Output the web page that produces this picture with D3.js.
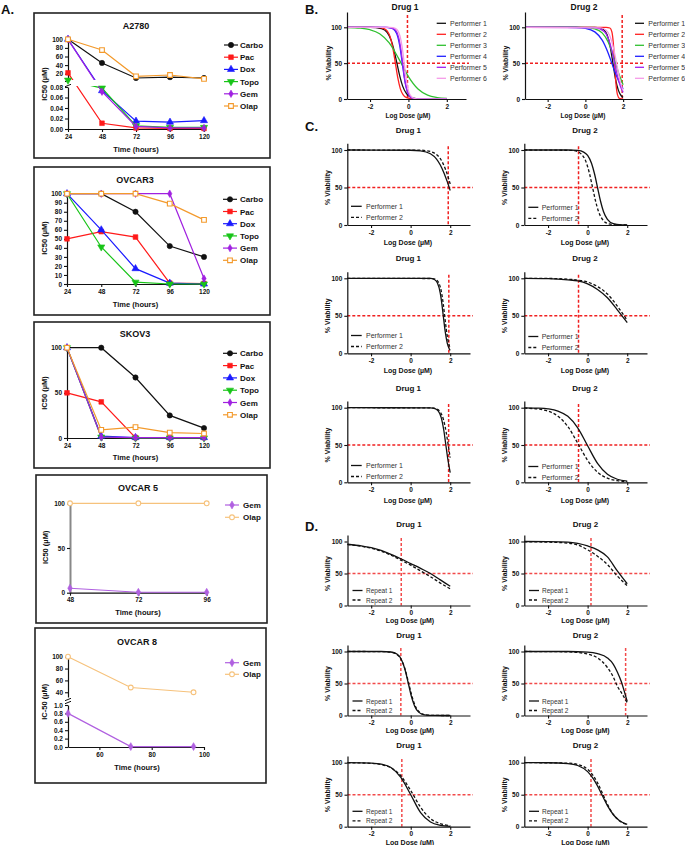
<!DOCTYPE html>
<html>
<head>
<meta charset="utf-8">
<script src="https://cdn.jsdelivr.net/npm/d3@7"></script>
<style>
body { margin: 0; background: #fff; }
svg { display: block; font-family: "Liberation Sans", Arial, sans-serif; }
</style>
</head>
<body>
<svg id="fig" width="685" height="845"></svg>
<script>
// ---------- panel A data (IC50, uM) ----------
const hours = [24, 48, 72, 96, 120];
const hoursShort = [48, 72, 96];
const drugNames = ["Carbo", "Pac", "Dox", "Topo", "Gem", "Olap"];
const drugNamesShort = ["Gem", "Olap"];

const a2780Ic50 = [
    [100, 45, 10, 12, 10],
    [22, 0.011, 0.002, 0.001, 0.001],
    [100, 0.073, 0.015, 0.013, 0.016],
    [5, 0.078, 0.006, 0.003, 0.003],
    [100, 0.071, 0.005, 0.002, 0.002],
    [100, 75, 14, 17, 8]
];
const ovcar3Ic50 = [
    [100, 100, 80, 42, 30],
    [50, 58, 52, 1, 0.5],
    [100, 60, 17, 1, 0],
    [100, 41, 2, 0, 0],
    [100, 100, 100, 100, 6],
    [100, 100, 100, 89, 71]
];
const skov3Ic50 = [
    [100, 100, 67, 25, 11],
    [50, 40, 0.5, 0.5, 0.5],
    [100, 2, 0.5, 0.5, 0.5],
    [100, 1, 0, 0, 0],
    [100, 1, 0.5, 0.5, 0.5],
    [100, 9, 12, 6, 5]
];
const ovcar5Ic50 = [
    [5, 0.5, 0.5],
    [100, 100, 100]
];
const ovcar8Ic50 = [
    [0.8, 0.01, 0.01],
    [100, 48, 40]
];

const a2780HighTicks = [20, 40, 60, 80, 100];
const a2780LowTicks = [0, 0.02, 0.04, 0.06, 0.08];
const ovcar3Ticks = [0, 10, 20, 30, 40, 50, 60, 70, 80, 90, 100];
const ic50Ticks = [0, 50, 100];
const ovcar8HighTicks = [40, 60, 80, 100];
const ovcar8LowTicks = [0, 0.2, 0.4, 0.6, 0.8, 1.0];
const ovcar8HourTicks = [60, 80, 100];

// ---------- dose-response data: [log dose, % viability] ----------
const doseTicks = [-2, 0, 2];
const viabilityTicks = [0, 50, 100];
const performersB = ["Performer 1", "Performer 2", "Performer 3", "Performer 4", "Performer 5", "Performer 6"];
const performersC = ["Performer 1", "Performer 2"];
const repeatsD = ["Repeat 1", "Repeat 2"];

const bDrug1 = [
    [[-3.2,100],[-2,100],[-1.4,98.3],[-1.1,92.7],[-0.9,82],[-0.75,68],[-0.6,50],[-0.45,32],[-0.3,18],[-0.1,7.4],[0.1,2.8],[0.4,0.6],[1,0],[2,0]],
    [[-3.2,100],[-1.6,100],[-1.3,98.6],[-1.1,94.8],[-0.95,86.6],[-0.82,72.5],[-0.68,50],[-0.55,29],[-0.42,14.2],[-0.28,6],[-0.1,1.8],[0.2,0.2],[1,0],[2,0]],
    [[-3.2,99.7],[-2.5,98.8],[-2,96.6],[-1.5,91],[-1,78.3],[-0.5,56],[0,31.3],[0.5,13.9],[1,5.4],[1.5,2],[2,0.7]],
    [[-3.2,100],[-1.2,100],[-0.9,99],[-0.7,95.5],[-0.55,86.4],[-0.45,74],[-0.32,50],[-0.2,27.5],[-0.1,14.5],[0.05,4.8],[0.25,1],[0.5,0.2],[2,0]],
    [[-3.2,100],[-1.1,100],[-0.85,99],[-0.65,95.5],[-0.5,85],[-0.4,70.6],[-0.3,50],[-0.2,29],[-0.1,14.8],[0.05,4.5],[0.25,0.8],[0.5,0.1],[2,0]],
    [[-3.2,100],[-1,100],[-0.8,99.5],[-0.6,97],[-0.45,89],[-0.33,73],[-0.22,50],[-0.12,28.5],[-0.02,13.7],[0.1,5],[0.3,0.8],[0.6,0],[2,0]]
];
const bDrug2 = [
    [[-3.2,100],[0.5,100],[0.8,99],[1.0,96],[1.15,89.5],[1.3,75],[1.46,50],[1.6,27.5],[1.75,12],[1.9,4.5],[2,2.3]],
    [[-3.2,100],[1.1,100],[1.3,99],[1.4,94],[1.48,78],[1.55,50],[1.62,21.6],[1.7,6],[1.8,1],[2,0]],
    [[-3.2,100],[-0.5,100],[0,99.6],[0.5,97.8],[0.9,91.8],[1.2,80],[1.4,66.6],[1.6,50],[1.8,33],[2,20]],
    [[-3.2,100],[-1,99.9],[-0.5,99.7],[0,98.5],[0.5,93.6],[0.9,81.7],[1.2,64.5],[1.4,50],[1.6,35.5],[1.8,23],[2,14.2]],
    [[-3.2,100],[0.5,99.5],[1.0,94],[1.2,85.5],[1.4,68],[1.55,50],[1.7,32],[1.85,18],[2,9.3]],
    [[-3.2,100],[0.8,99.2],[1.1,96],[1.3,88],[1.5,70],[1.65,50],[1.8,30],[1.9,19],[2,11.8]]
];

const cRow1Drug1 = [
    [[-3.2,100],[0,99.7],[0.5,98.9],[1,95],[1.3,88.2],[1.5,80],[1.7,68.4],[1.85,57.8],[2,46]],
    [[-3.2,100],[0.5,99.7],[1,98],[1.3,94],[1.5,88.4],[1.75,75],[1.9,63.5],[2,54.6]]
];
const cRow1Drug2 = [
    [[-3.2,100],[-1,100],[-0.5,99.4],[-0.2,97.2],[0,92.7],[0.2,82],[0.35,68],[0.5,50],[0.65,32],[0.8,18],[1,7.4],[1.3,1.7],[1.7,0.2],[2,0]],
    [[-3.2,100],[-0.8,99.5],[-0.5,97.8],[-0.3,94],[-0.1,85.5],[0.1,68],[0.25,50],[0.4,32],[0.55,18],[0.75,7.4],[1.05,1.7],[1.45,0.2],[2,0]]
];
const cRow2Drug1 = [
    [[-3.2,100],[1,99.8],[1.2,98.4],[1.35,94],[1.5,80],[1.6,61.3],[1.65,50],[1.75,28.5],[1.85,13.7],[1.95,6],[2,3.8]],
    [[-3.2,100],[1.1,99.7],[1.25,98.7],[1.4,95],[1.55,82.7],[1.65,65.6],[1.72,50],[1.8,32.4],[1.9,16],[2,7]]
];
const cRow2Drug2 = [
    [[-3.2,100],[-2,99.6],[-1,98],[-0.5,96.5],[0,92.5],[0.5,85],[1,74],[1.5,58],[2,41]],
    [[-3.2,100],[-2,99.8],[-1,98.8],[-0.5,97.6],[0,95],[0.5,89],[1,79],[1.5,63],[2,44]]
];
const cRow3Drug1 = [
    [[-3.2,100],[1,99.8],[1.2,99],[1.4,95.5],[1.55,86.4],[1.67,70.8],[1.78,50],[1.88,30.9],[2,13]],
    [[-3.2,100],[1,99.8],[1.3,98.4],[1.5,94],[1.65,85],[1.8,66.6],[1.9,50],[2,33]]
];
const cRow3Drug2 = [
    [[-3.2,99.8],[-2.5,99.4],[-2,98.4],[-1.5,95.5],[-1,88.4],[-0.5,73],[0,49],[0.5,25.4],[1,10.8],[1.5,4.1],[2,1.5]],
    [[-3.2,99.4],[-2.5,98.2],[-2,95.4],[-1.5,88.6],[-1,74.7],[-0.45,50],[0,29.4],[0.5,13.5],[1,5.5],[1.5,2.2],[2,0.8]]
];

const dRow1Drug1 = [
    [[-3.2,95.7],[-2.5,93],[-2,90.5],[-1.5,86],[-1,80],[-0.5,73],[0,65.5],[0.5,58],[1,50],[1.5,40],[2,30]],
    [[-3.2,95.3],[-2.5,92.5],[-2,89.5],[-1.5,85],[-1,78.5],[-0.5,71],[0,63],[0.5,54],[1,45],[1.5,35],[2,26]]
];
const dRow1Drug2 = [
    [[-3.2,100],[-2,99.8],[-1,99],[-0.5,97],[0,93],[0.5,87],[1,76],[1.5,54],[2,34]],
    [[-3.2,99.5],[-2,99],[-1,97.5],[-0.5,94.5],[0,87],[0.5,77],[1,64],[1.5,46],[2,31]]
];
const dRow2Drug1 = [
    [[-3.2,100],[-1.5,100],[-1,99.2],[-0.7,96],[-0.5,89],[-0.3,73],[-0.12,50],[0.05,28],[0.2,14.6],[0.4,5.3],[0.7,1],[1.2,0.1],[2,0]],
    [[-3.2,100],[-1.5,99.9],[-1,98.9],[-0.7,95.3],[-0.5,88.3],[-0.3,73.5],[-0.1,50],[0.05,31.5],[0.25,13.5],[0.45,5],[0.75,1.1],[1.2,0.1],[2,0]]
];
const dRow2Drug2 = [
    [[-3.2,100],[-1,100],[0,99],[0.5,96.5],[1,90],[1.3,80],[1.5,68],[1.7,53],[1.85,38],[2,22]],
    [[-3.2,100],[-1,99.5],[-0.5,98.5],[0,96],[0.5,90],[1,75],[1.3,60],[1.5,46],[1.7,36],[2,20]]
];
const dRow3Drug1 = [
    [[-3.2,100],[-2.5,99.8],[-2,99.4],[-1.5,97.8],[-1,92.6],[-0.5,77],[0,50],[0.5,22],[1,7.4],[1.5,2.2],[2,0.6]],
    [[-3.2,99.9],[-2.5,99.6],[-2,99],[-1.5,97],[-1,92],[-0.5,79.6],[0,56.5],[0.5,30.4],[1,12.7],[1.5,4.7],[2,1.6]]
];
const dRow3Drug2 = [
    [[-3.2,100],[-2,99.9],[-1,98.7],[-0.5,95.6],[0,86],[0.3,74.3],[0.5,63.6],[0.72,50],[1,33],[1.3,18.7],[1.6,9.7],[2,3.8]],
    [[-3.2,100],[-2,99.9],[-1,99.3],[-0.5,97.2],[0,89.6],[0.3,79],[0.5,68.5],[0.78,50],[1,35],[1.3,19.2],[1.6,9.4],[2,3.3]]
];

// IC50 reference lines (log dose)
const bRefDose = [-0.05, 1.95];
const cRefDose = [1.9, -0.46, 1.93, -0.46, 1.92, -0.46];
const dRefDose = [-0.48, 0.17, -0.5, 1.92, -0.45, 0.17];

// ---------- drawing ----------
const svg = d3.select("#fig");
const FONT = '"Liberation Sans", Arial, sans-serif';
const drugColors = ["#111111", "#ff1a1a", "#1a1aff", "#18c418", "#a020e0", "#f39a2c"];
const drugSymbols = [d3.symbolCircle, d3.symbolSquare, d3.symbolTriangle, d3.symbolTriangle, d3.symbolDiamond, d3.symbolSquare];
const shortColors = ["#b060e0", "#f6c27c"];
const perfColors = ["#111111", "#ff2020", "#30c030", "#2020ff", "#a020f0", "#f59ae8"];

function styleAxis(sel, color) {
    sel.attr("font-family", FONT);
    sel.select(".domain").attr("stroke", color || "#111").attr("stroke-width", color ? 2 : 1.2);
    sel.selectAll(".tick line").attr("stroke", "#111").attr("stroke-width", 1.1);
    sel.selectAll(".tick text").attr("font-size", 6.5).attr("font-weight", "bold").attr("fill", "#111");
}

function addText(g, str, x, y, size, opts = {}) {
    const t = g.append("text")
        .attr("x", x).attr("y", y)
        .attr("font-size", size)
        .attr("font-weight", opts.weight || "bold")
        .attr("fill", opts.fill || "#111")
        .attr("text-anchor", opts.anchor || "middle")
        .text(str);
    if (opts.rotate) t.attr("transform", `rotate(-90,${x},${y})`);
    return t;
}

function drawMarker(g, i, px, py, short) {
    const type = short ? (i === 0 ? d3.symbolDiamond : d3.symbolCircle) : drugSymbols[i];
    const color = short ? shortColors[i] : drugColors[i];
    const open = short ? i === 1 : i === 5;
    const size = short ? 18 : (i === 4 ? 16 : 22);
    g.append("path")
        .attr("d", d3.symbol().type(type).size(size)())
        .attr("transform", `translate(${px},${py})` + (!short && i === 3 ? " rotate(180)" : ""))
        .attr("fill", open ? "#fff" : color)
        .attr("stroke", color)
        .attr("stroke-width", open ? 1.1 : 0.6);
}

let clipId = 0;
function timeChart(c) {
    const g = svg.append("g");
    g.append("rect")
        .attr("x", c.box[0]).attr("y", c.box[1])
        .attr("width", c.box[2] - c.box[0]).attr("height", c.box[3] - c.box[1])
        .attr("fill", "none").attr("stroke", "#222").attr("stroke-width", 1.6);
    addText(g, c.title, c.titlePos[0], c.titlePos[1], 9);

    const x = d3.scaleLinear().domain(c.xDomain).range(c.xRange);
    const scales = c.segments.map(s => d3.scaleLinear().domain(s.domain).range(s.range));
    const yPos = v => (scales.length > 1 && v > c.segments[0].domain[1]) ? scales[1](v) : scales[0](v);

    c.segments.forEach((s, i) => {
        g.append("g")
            .attr("transform", `translate(${c.xRange[0]},0)`)
            .call(d3.axisLeft(scales[i]).tickValues(s.ticks).tickFormat(s.fmt).tickSize(3).tickSizeOuter(0).tickPadding(2))
            .call(styleAxis, c.yAxisColor);
    });
    if (c.segments.length > 1) {
        const gx = c.xRange[0];
        [c.gap[0] + 0.5, c.gap[1] - 0.5].forEach(yy => {
            g.append("line").attr("x1", gx - 3).attr("x2", gx + 3)
                .attr("y1", yy + 1.2).attr("y2", yy - 1.2)
                .attr("stroke", "#111").attr("stroke-width", 1);
        });
    }
    g.append("g")
        .attr("transform", `translate(0,${c.axisY})`)
        .call(d3.axisBottom(x).tickValues(c.xTicks).tickSize(3).tickSizeOuter(0).tickPadding(2))
        .call(styleAxis);

    addText(g, c.xLabel, c.xLabelPos[0], c.xLabelPos[1], 7.5);
    addText(g, c.yLabel, c.yLabelPos[0], c.yLabelPos[1], 7.5, { rotate: true });

    let clip = null;
    if (c.gap) {
        const id = "clip" + (clipId++);
        const cp = g.append("clipPath").attr("id", id);
        cp.append("rect").attr("x", c.box[0]).attr("y", c.box[1]).attr("width", c.box[2] - c.box[0]).attr("height", c.gap[0] - c.box[1]);
        cp.append("rect").attr("x", c.box[0]).attr("y", c.gap[1]).attr("width", c.box[2] - c.box[0]).attr("height", c.box[3] - c.gap[1]);
        clip = `url(#${id})`;
    }

    const line = d3.line();
    c.series.forEach((vals, i) => {
        const pts = vals.map((v, j) => [x(c.xs[j]), yPos(v)]);
        g.append("path")
            .attr("d", line(pts))
            .attr("fill", "none")
            .attr("stroke", c.short ? shortColors[i] : drugColors[i])
            .attr("stroke-width", 1.2)
            .attr("clip-path", clip);
        pts.forEach(p => drawMarker(g, i, p[0], p[1], c.short));
    });

    c.names.forEach((name, i) => {
        const ly = c.legend.y + i * c.legend.dy;
        g.append("line")
            .attr("x1", c.legend.mx - 7).attr("x2", c.legend.mx + 7)
            .attr("y1", ly).attr("y2", ly)
            .attr("stroke", c.short ? shortColors[i] : drugColors[i]).attr("stroke-width", 1.2);
        drawMarker(g, i, c.legend.mx, ly, c.short);
        addText(g, name, c.legend.tx, ly + 3, 8, { anchor: "start" });
    });
}

function doseChart(c) {
    const g = svg.append("g");
    const topVal = 100 * (c.y0 - c.yTop) / (c.y0 - c.y100);
    const x = d3.scaleLinear().domain([-3.2, 3]).range([c.x0, c.x1]);
    const y = d3.scaleLinear().domain([0, topVal]).range([c.y0, c.yTop]);
    const refColor = c.refColor || "#f02020";

    g.append("line")
        .attr("x1", c.x0).attr("x2", c.x1 + 3)
        .attr("y1", y(50)).attr("y2", y(50))
        .attr("stroke", refColor).attr("stroke-width", 1.5).attr("stroke-dasharray", "3,2");
    g.append("line")
        .attr("x1", x(c.ref)).attr("x2", x(c.ref))
        .attr("y1", c.yTop + 3).attr("y2", c.y0)
        .attr("stroke", refColor).attr("stroke-width", 1.5).attr("stroke-dasharray", "3,2");

    const line = d3.line().x(d => x(d[0])).y(d => y(d[1])).curve(d3.curveMonotoneX);
    c.curves.forEach((pts, i) => {
        g.append("path")
            .attr("d", line(pts))
            .attr("fill", "none")
            .attr("stroke", c.colors[i])
            .attr("stroke-width", 1.3)
            .attr("stroke-dasharray", c.dashed && i === 1 ? "3,2" : null);
    });

    g.append("g")
        .attr("transform", `translate(0,${c.y0})`)
        .call(d3.axisBottom(x).tickValues(doseTicks).tickFormat(d => String(d)).tickSize(3).tickSizeOuter(0).tickPadding(2))
        .call(styleAxis);
    g.append("g")
        .attr("transform", `translate(${c.x0},0)`)
        .call(d3.axisLeft(y).tickValues(viabilityTicks).tickSize(3).tickSizeOuter(0).tickPadding(2))
        .call(styleAxis);

    addText(g, c.title, c.titlePos[0], c.titlePos[1], c.titleSize || 8);
    addText(g, "Log Dose (\u00b5M)", c.xLabelPos[0], c.xLabelPos[1], c.xLabelSize || 7);
    addText(g, "% Viability", c.ylabelX, y(50), 7, { rotate: true });

    c.names.forEach((name, i) => {
        const ly = c.legend.y + i * c.legend.dy;
        g.append("line")
            .attr("x1", c.legend.lx).attr("x2", c.legend.lx + c.legend.lw)
            .attr("y1", ly).attr("y2", ly)
            .attr("stroke", c.colors[i]).attr("stroke-width", 1.3)
            .attr("stroke-dasharray", c.dashed && i === 1 ? "3,2" : null);
        addText(g, name, c.legend.tx, ly + 2.5, c.legend.size || 7, { anchor: "start", weight: "normal", fill: "#333" });
    });
}

// ---------- panel letters ----------
addText(svg, "A.", 1, 14, 13, { anchor: "start" });
addText(svg, "B.", 305, 14, 13, { anchor: "start" });
addText(svg, "C.", 305, 131, 13, { anchor: "start" });
addText(svg, "D.", 305, 531, 13, { anchor: "start" });

// ---------- panel A ----------
timeChart({
    box: [34, 13, 270, 158], title: "A2780", titlePos: [136, 28.5],
    xDomain: [24, 120], xRange: [68, 204], xTicks: hours, xs: hours, axisY: 129,
    segments: [
        { domain: [0, 0.08], range: [129, 87], ticks: a2780LowTicks, fmt: d3.format(".2f") },
        { domain: [10, 100], range: [78, 39.3], ticks: a2780HighTicks, fmt: d3.format("d") }
    ],
    gap: [80, 86],
    xLabel: "Time (hours)", xLabelPos: [136, 151.5], yLabel: "IC50 (\u00b5M)", yLabelPos: [47, 84],
    series: a2780Ic50, names: drugNames, legend: { mx: 231, tx: 240, y: 45, dy: 12.2 }
});
timeChart({
    box: [34, 167, 270, 315], title: "OVCAR3", titlePos: [135, 182.5],
    xDomain: [24, 120], xRange: [67, 204], xTicks: hours, xs: hours, axisY: 284,
    segments: [{ domain: [0, 100], range: [284, 193.7], ticks: ovcar3Ticks, fmt: d3.format("d") }],
    xLabel: "Time (hours)", xLabelPos: [135.5, 306.5], yLabel: "IC50 (\u00b5M)", yLabelPos: [46.7, 238],
    series: ovcar3Ic50, names: drugNames, legend: { mx: 230, tx: 240, y: 199.3, dy: 12.2 }
});
timeChart({
    box: [34, 322, 270, 468], title: "SKOV3", titlePos: [135, 336.5],
    xDomain: [24, 120], xRange: [67, 204], xTicks: hours, xs: hours, axisY: 438,
    segments: [{ domain: [0, 100], range: [438, 347.7], ticks: ic50Ticks, fmt: d3.format("d") }],
    xLabel: "Time (hours)", xLabelPos: [135.5, 460], yLabel: "IC50 (\u00b5M)", yLabelPos: [46.7, 393],
    series: skov3Ic50, names: drugNames, legend: { mx: 230, tx: 240, y: 353.3, dy: 12.3 }
});
timeChart({
    box: [36, 475, 267, 623], title: "OVCAR 5", titlePos: [138, 490.5],
    xDomain: [48, 96], xRange: [70, 206.7], xTicks: hoursShort, xs: hoursShort, axisY: 592.7,
    segments: [{ domain: [0, 100], range: [592.7, 503.3], ticks: ic50Ticks, fmt: d3.format("d") }],
    yAxisColor: "#888",
    xLabel: "Time (hours)", xLabelPos: [138, 615], yLabel: "IC50 (\u00b5M)", yLabelPos: [48.3, 547.3],
    series: ovcar5Ic50, names: drugNamesShort, short: true, legend: { mx: 232, tx: 243, y: 505, dy: 12.3 }
});
timeChart({
    box: [35, 628, 266, 783], title: "OVCAR 8", titlePos: [137, 645],
    xDomain: [48, 100], xRange: [68, 204], xTicks: ovcar8HourTicks, xs: hoursShort, axisY: 747,
    segments: [
        { domain: [0, 1], range: [747, 705], ticks: ovcar8LowTicks, fmt: d3.format(".1f") },
        { domain: [32, 100], range: [697, 656.7], ticks: ovcar8HighTicks, fmt: d3.format("d") }
    ],
    gap: [699, 703],
    xLabel: "Time (hours)", xLabelPos: [137, 769.5], yLabel: "IC-50 (\u00b5M)", yLabelPos: [46.7, 701.7],
    series: ovcar8Ic50, names: drugNamesShort, short: true, legend: { mx: 232, tx: 243, y: 662.7, dy: 11.6 }
});

// ---------- panel B ----------
doseChart({
    x0: 347, x1: 466, y100: 27.3, y0: 99, yTop: 12,
    title: "Drug 1", titlePos: [405, 10], titleSize: 8.5, xLabelPos: [408, 118], xLabelSize: 6.5, ylabelX: 331,
    ref: bRefDose[0], curves: bDrug1, colors: perfColors, names: performersB,
    legend: { lx: 436.7, lw: 9.3, tx: 450, y: 23.3, dy: 11 }
});
doseChart({
    x0: 525, x1: 642, y100: 27.3, y0: 99, yTop: 12,
    title: "Drug 2", titlePos: [584, 10], titleSize: 8.5, xLabelPos: [583, 118], xLabelSize: 6.5, ylabelX: 508,
    ref: bRefDose[1], curves: bDrug2, colors: perfColors, names: performersB,
    legend: { lx: 635, lw: 9, tx: 648.3, y: 23.3, dy: 11 }
});

// ---------- panel C ----------
const cRows = [
    { y100: 150, y0: 225, yTop: 143.3, titleY: 133, xLabelY: 245, legendY: 206.3, curves: [cRow1Drug1, cRow1Drug2] },
    { y100: 278.3, y0: 353.3, yTop: 271.7, titleY: 261, xLabelY: 373, legendY: 335.5, curves: [cRow2Drug1, cRow2Drug2] },
    { y100: 407.7, y0: 482.3, yTop: 401, titleY: 390.5, xLabelY: 503, legendY: 465.5, curves: [cRow3Drug1, cRow3Drug2] }
];
cRows.forEach((r, k) => {
    doseChart({
        x0: 347.3, x1: 470, y100: r.y100, y0: r.y0, yTop: r.yTop,
        title: "Drug 1", titlePos: [408.3, r.titleY], xLabelPos: [408, r.xLabelY], ylabelX: 330,
        ref: cRefDose[k * 2], curves: r.curves[0], colors: ["#111", "#111"], dashed: true, names: performersC,
        legend: { lx: 351, lw: 10.7, tx: 366, y: r.legendY, dy: 11 }
    });
    doseChart({
        x0: 524.3, x1: 647, y100: r.y100, y0: r.y0, yTop: r.yTop,
        title: "Drug 2", titlePos: [585, r.titleY], xLabelPos: [585, r.xLabelY], ylabelX: 507,
        ref: cRefDose[k * 2 + 1], curves: r.curves[1], colors: ["#111", "#111"], dashed: true, names: performersC,
        legend: { lx: 528.3, lw: 10, tx: 541.7, y: r.legendY + 1, dy: 11 }
    });
});

// ---------- panel D ----------
const dRows = [
    { y100: 541.5, y0: 605.5, yTop: 535, titleY: 527, xLabelY: 623, legendY: 590.5, curves: [dRow1Drug1, dRow1Drug2] },
    { y100: 651.5, y0: 715.5, yTop: 645, titleY: 637.5, xLabelY: 733, legendY: 701, curves: [dRow2Drug1, dRow2Drug2] },
    { y100: 762.7, y0: 826.7, yTop: 756, titleY: 747.5, xLabelY: 844.5, legendY: 811.3, curves: [dRow3Drug1, dRow3Drug2] }
];
dRows.forEach((r, k) => {
    doseChart({
        x0: 347.5, x1: 470, y100: r.y100, y0: r.y0, yTop: r.yTop,
        title: "Drug 1", titlePos: [409, r.titleY], xLabelPos: [410, r.xLabelY], ylabelX: 330,
        ref: dRefDose[k * 2], refColor: "#f24a4a", curves: r.curves[0], colors: ["#111", "#111"], dashed: true, names: repeatsD,
        legend: { lx: 352.5, lw: 10, tx: 366, y: r.legendY, dy: 9.5, size: 6.5 }
    });
    doseChart({
        x0: 524.3, x1: 647, y100: r.y100, y0: r.y0, yTop: r.yTop,
        title: "Drug 2", titlePos: [585.5, r.titleY], xLabelPos: [585.5, r.xLabelY], ylabelX: 507,
        ref: dRefDose[k * 2 + 1], refColor: "#f24a4a", curves: r.curves[1], colors: ["#111", "#111"], dashed: true, names: repeatsD,
        legend: { lx: 529, lw: 10, tx: 542, y: r.legendY, dy: 9.5, size: 6.5 }
    });
});
</script>
</body>
</html>
